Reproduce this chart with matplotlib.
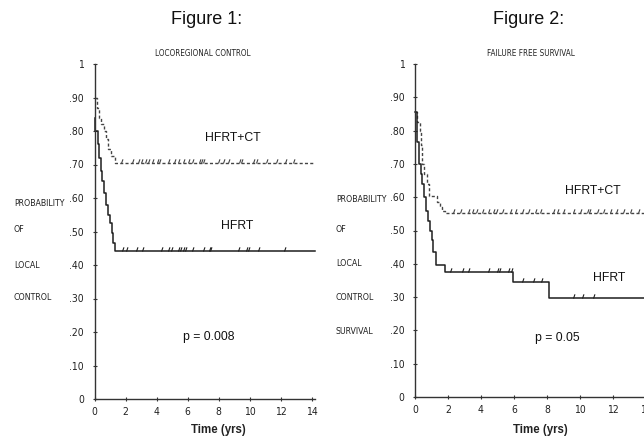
import matplotlib
matplotlib.use("Agg")
import matplotlib.pyplot as plt
import numpy as np
from matplotlib import font_manager as fm
from matplotlib.font_manager import FontProperties

names = {f.name for f in fm.fontManager.ttflist}
SANS = "Liberation Sans" if "Liberation Sans" in names else "DejaVu Sans"


def find_narrow():
    cands = []
    for f in fm.fontManager.ttflist:
        key = (f.name + " " + f.fname).lower()
        if ("narrow" in key or "condensed" in key or f.stretch in ("condensed", "semi-condensed")) \
                and f.weight in (400, "normal", "regular") and f.style == "normal":
            score = 0 if "liberation" in key else (1 if "dejavu" in key else 2)
            cands.append((score, f.fname))
    cands.sort()
    return cands[0][1] if cands else None


NARROW_FILE = find_narrow()


def nfont(size):
    if NARROW_FILE:
        return FontProperties(fname=NARROW_FILE, size=size)
    return FontProperties(family="Roboto" if "Roboto" in names else SANS,
                          size=size * 0.86)


# ---------------- Data ----------------
# Figure 1: locoregional control
lc_ct_t = [0, 0.15, 0.3, 0.45, 0.6, 0.75, 0.9, 1.05, 1.3, 14.2]
lc_ct_s = [0.90, 0.87, 0.84, 0.82, 0.80, 0.775, 0.745, 0.725, 0.703, 0.703]
lc_ct_cens = [1.72, 2.43, 2.8, 3.01, 3.23, 3.44, 3.72, 4.02, 4.19, 4.73, 5.16, 5.37,
              5.7, 6.02, 6.3, 6.73, 6.88, 7.03, 7.95, 8.28, 8.6, 9.35, 9.46, 10.21,
              10.43, 11.08, 11.72, 12.26, 12.8]

lc_rt_t = [0, 0.05, 0.2, 0.3, 0.4, 0.5, 0.6, 0.75, 0.9, 1.03, 1.1, 1.2, 1.3, 14.2]
lc_rt_s = [0.84, 0.80, 0.76, 0.72, 0.68, 0.65, 0.615, 0.58, 0.55, 0.525, 0.495,
           0.465, 0.442, 0.442]
lc_rt_cens = [1.79, 2.0, 2.69, 3.08, 4.26, 4.77, 4.95, 5.37, 5.5, 5.68, 5.83, 6.3,
              6.99, 7.37, 7.46, 9.29, 9.8, 9.89, 10.58, 12.21]

# Figure 2: failure free survival
ffs_ct_t = [0, 0.15, 0.3, 0.36, 0.45, 0.57, 0.7, 0.85, 1.35, 1.5, 1.65, 1.8, 14.6]
ffs_ct_s = [0.857, 0.825, 0.80, 0.757, 0.70, 0.67, 0.64, 0.605, 0.585, 0.57, 0.56,
            0.552, 0.552]
ffs_ct_cens = [2.28, 2.73, 3.23, 3.43, 3.70, 4.04, 4.44, 4.75, 4.91, 5.25, 5.76,
               6.06, 6.46, 6.87, 7.27, 7.58, 8.38, 8.63, 8.99, 9.55, 10.0, 10.4,
               10.57, 11.0, 11.4, 11.8, 12.2, 12.6, 13.0, 13.5]

ffs_rt_t = [0, 0.1, 0.25, 0.35, 0.45, 0.55, 0.65, 0.8, 0.9, 1.0, 1.1, 1.25, 1.82,
            5.92, 8.1, 14.6]
ffs_rt_s = [0.855, 0.767, 0.70, 0.67, 0.64, 0.60, 0.56, 0.53, 0.50, 0.47, 0.436,
            0.396, 0.376, 0.346, 0.297, 0.297]
ffs_rt_cens = [2.12, 2.83, 3.23, 4.44, 4.95, 5.09, 5.65, 5.8, 6.5, 7.13, 7.62, 9.6,
               10.1, 10.8]

y_ticks = [0, 0.1, 0.2, 0.3, 0.4, 0.5, 0.6, 0.7, 0.8, 0.9, 1.0]
y_ticklabels = ["0", ".10", ".20", ".30", ".40", ".50", ".60", ".70", ".80", ".90", "1"]
x_ticks = [0, 2, 4, 6, 8, 10, 12, 14]
x_ticklabels = ["0", "2", "4", "6", "8", "10", "12", "14"]

# ---------------- Figure ----------------
W, H = 644, 438
fig = plt.figure(figsize=(W / 100, H / 100), dpi=100)
fig.patch.set_facecolor("white")

INK = "#1e1e1e"
cens_marker = [(0, 0), (0.35, 1)]


def step_value(t_arr, s_arr, t):
    idx = np.searchsorted(np.asarray(t_arr), t, side="right") - 1
    return np.asarray(s_arr)[idx]


def make_panel(rect, xmax, ct_t, ct_s, ct_c, rt_t, rt_s, rt_c):
    ax = fig.add_axes(rect)
    ax.set_xlim(0, xmax)
    ax.set_ylim(0, 1.0)
    for s in ["top", "right"]:
        ax.spines[s].set_visible(False)
    for s in ["left", "bottom"]:
        ax.spines[s].set_color("#333333")
        ax.spines[s].set_linewidth(1.0)
    ax.set_yticks(y_ticks)
    ax.set_yticklabels(y_ticklabels, fontproperties=nfont(7.5), color="#222")
    ax.set_xticks(x_ticks)
    ax.set_xticklabels(x_ticklabels, fontproperties=nfont(7.5), color="#222")
    ax.tick_params(axis="y", direction="inout", length=3, width=0.8, pad=6,
                   color="#333")
    ax.tick_params(axis="x", direction="inout", length=3, width=0.8, pad=4,
                   color="#333")
    ax.step(ct_t, ct_s, where="post", color="#444444", lw=1.0,
            linestyle=(0, (2.2, 1.6)), clip_on=False)
    ax.step(rt_t, rt_s, where="post", color=INK, lw=1.1, clip_on=False)
    ax.plot(ct_c, step_value(ct_t, ct_s, ct_c), linestyle="none",
            marker=cens_marker, markersize=6, mew=0.8, color="#444444")
    ax.plot(rt_c, step_value(rt_t, rt_s, rt_c), linestyle="none",
            marker=cens_marker, markersize=6, mew=0.8, color=INK)
    return ax


ax1 = make_panel([94.5 / W, (H - 399) / H, 14.2 * 15.5 / W, 335 / H], 14.2,
                 lc_ct_t, lc_ct_s, lc_ct_cens, lc_rt_t, lc_rt_s, lc_rt_cens)
ax2 = make_panel([415 / W, (H - 397) / H, 14.6 * 16.5 / W, 333 / H], 14.6,
                 ffs_ct_t, ffs_ct_s, ffs_ct_cens, ffs_rt_t, ffs_rt_s, ffs_rt_cens)

LBL = dict(fontfamily=SANS, fontsize=8.8, color="#111")
ax1.text(7.1, 0.78, "HFRT+CT", ha="left", va="center", **LBL)
ax1.text(9.2, 0.515, "HFRT", ha="center", va="center", **LBL)
ax1.text(7.4, 0.185, "p = 0.008", ha="center", va="center", **LBL)

ax2.text(9.1, 0.618, "HFRT+CT", ha="left", va="center", **LBL)
ax2.text(11.75, 0.358, "HFRT", ha="center", va="center", **LBL)
ax2.text(8.6, 0.177, "p = 0.05", ha="center", va="center", **LBL)

fig.text(207 / W, 1 - 19 / H, "Figure 1:", fontfamily=SANS, fontsize=13,
         ha="center", va="center", color="#111")
fig.text(529 / W, 1 - 19 / H, "Figure 2:", fontfamily=SANS, fontsize=13,
         ha="center", va="center", color="#111")
fig.text(203 / W, 1 - 53 / H, "LOCOREGIONAL CONTROL", fontproperties=nfont(5.9),
         ha="center", va="center", color="#222")
fig.text(531 / W, 1 - 54 / H, "FAILURE FREE SURVIVAL", fontproperties=nfont(5.9),
         ha="center", va="center", color="#222")

for txt, y in [("PROBABILITY", 203), ("OF", 230), ("LOCAL", 265), ("CONTROL", 297)]:
    fig.text(14 / W, 1 - y / H, txt, fontproperties=nfont(6.3),
             ha="left", va="center", color="#222")
for txt, y in [("PROBABILITY", 199), ("OF", 230), ("LOCAL", 264), ("CONTROL", 298),
               ("SURVIVAL", 331)]:
    fig.text(336 / W, 1 - y / H, txt, fontproperties=nfont(6.3),
             ha="left", va="center", color="#222")

fig.text(218 / W, 1 - 430 / H, "Time (yrs)", fontfamily=SANS, fontsize=8.3,
         fontweight="bold", ha="center", va="center", color="#222")
fig.text(540 / W, 1 - 430 / H, "Time (yrs)", fontfamily=SANS, fontsize=8.3,
         fontweight="bold", ha="center", va="center", color="#222")

fig.savefig("out.png", dpi=100)
